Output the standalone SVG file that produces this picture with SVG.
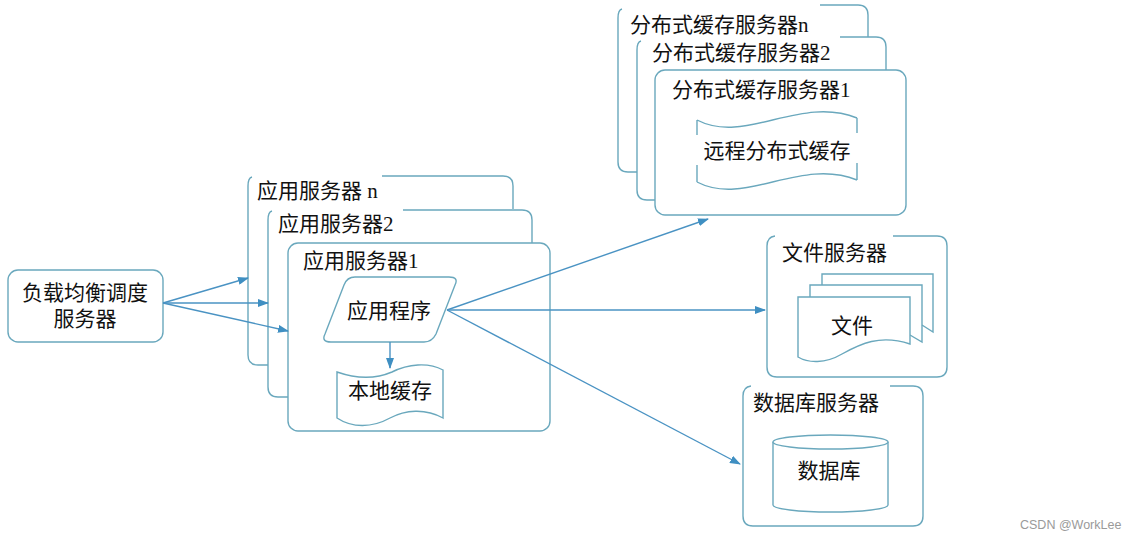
<svg xmlns="http://www.w3.org/2000/svg" width="1132" height="538" viewBox="0 0 1132 538">
<style>
.b{fill:none;stroke:#6aa8bd;stroke-width:1.4}
.bf{fill:#fff;stroke:#6aa8bd;stroke-width:1.4}
.c{fill:none;stroke:#4a93c3;stroke-width:1.4}
.t{font-family:"Liberation Serif","Noto Sans CJK SC",serif;font-size:21px;fill:#111}
.m{text-anchor:middle}
.w{font-family:"Liberation Sans",Arial,sans-serif;font-size:12.5px;fill:#9a9a9a}
</style>
<defs>
<marker id="ah" markerUnits="userSpaceOnUse" markerWidth="11" markerHeight="8" refX="10" refY="4" orient="auto">
<path d="M0,0 L11,4 L0,8 z" fill="#3f8fc2"/>
</marker>
</defs>
<rect width="1132" height="538" fill="#fff"/>

<g id="lb">
<rect class="bf" x="8" y="270" width="155" height="72" rx="10"/>
<text class="t m" x="85" y="300">负载均衡调度</text>
<text class="t m" x="85" y="326">服务器</text>
</g>

<g id="app-n">
<path class="b" d="M382,176 H503 Q513,176 513,186 V209 M252,177 Q248,178 248,186 V355 Q248,365 258,365 H268"/>
<text class="t" x="257" y="198">应用服务器 n</text>
</g>
<g id="app-2">
<path class="b" d="M403,210 H522 Q532,210 532,220 V243 M272,211 Q268,212 268,220 V387 Q268,397 278,397 H288"/>
<text class="t" x="278" y="231">应用服务器2</text>
</g>
<g id="app-1">
<rect class="bf" x="288" y="243" width="262" height="188" rx="10"/>
<text class="t" x="303" y="268">应用服务器1</text>
</g>
<g id="app-prog">
<path class="bf" d="M355,277 H449 Q459,277 455,285 L436,334 Q432,342 424,342 H331 Q321,342 325,334 L344,285 Q347,277 355,277 Z"/>
<text class="t m" x="389" y="318">应用程序</text>
</g>
<g id="local-cache">
<path class="bf" d="M337,372 C360,380 378,378 392,372 C408,364 428,362 443,370 V418 C425,408 405,410 390,418 C372,428 352,428 337,418 Z"/>
<text class="t m" x="390" y="398">本地缓存</text>
</g>

<g id="dc-n">
<path class="b" d="M820,5 H858 Q868,5 868,15 V37 M622,9 Q618,10 618,18 V162 Q618,172 628,172 H637"/>
<text class="t" x="630" y="32">分布式缓存服务器n</text>
</g>
<g id="dc-2">
<path class="b" d="M840,37 H876 Q886,37 886,47 V70 M641,41 Q637,42 637,50 V190 Q637,200 647,200 H655"/>
<text class="t" x="652" y="60">分布式缓存服务器2</text>
</g>
<g id="dc-1">
<rect class="bf" x="655" y="70" width="251" height="145" rx="10"/>
<text class="t" x="672" y="97">分布式缓存服务器1</text>
</g>
<g id="remote-cache">
<path class="b" d="M697,120 C745,145 800,95 857,118 M697,182 C745,207 800,157 857,180 M697,120 V135 M697,165 V182 M857,118 V133 M857,163 V180"/>
<text class="t m" x="777" y="158">远程分布式缓存</text>
</g>

<g id="file-server">
<path class="b" d="M893,236 H937 Q947,236 947,246 V367 Q947,377 937,377 H777 Q767,377 767,367 V246 Q767,237 775,236"/>
<text class="t" x="782" y="260">文件服务器</text>
</g>
<g id="files">
<path class="b" d="M822,285 V274 H933 V332 L922,325"/>
<path class="b" d="M810,297 V285 H922 V342 L910,335"/>
<path class="bf" d="M798,297 H910 V344 C880,334 860,344 842,354 C825,364 808,363 798,357 Z"/>
<text class="t m" x="852" y="333">文件</text>
</g>

<g id="db-server">
<path class="b" d="M890,386 H913 Q923,386 923,396 V516 Q923,526 913,526 H753 Q743,526 743,516 V396 Q743,387 751,386"/>
<text class="t" x="753" y="410">数据库服务器</text>
</g>
<g id="db">
<path class="bf" d="M773,442 V505 A57.5,7 0 0 0 888,505 V442"/>
<ellipse class="bf" cx="830.5" cy="442" rx="57.5" ry="7"/>
<text class="t m" x="829" y="478">数据库</text>
</g>

<g id="connectors">
<path class="c" d="M163,303 L248,278" marker-end="url(#ah)"/>
<path class="c" d="M163,303 L268,303" marker-end="url(#ah)"/>
<path class="c" d="M163,303 L288,331" marker-end="url(#ah)"/>
<path class="c" d="M390,342 L390,368" marker-end="url(#ah)"/>
<path class="c" d="M447,310 L708,219" marker-end="url(#ah)"/>
<path class="c" d="M447,310 L765,310" marker-end="url(#ah)"/>
<path class="c" d="M447,310 L740,464" marker-end="url(#ah)"/>
</g>

<text class="w" x="1020" y="529">CSDN @WorkLee</text>
</svg>
